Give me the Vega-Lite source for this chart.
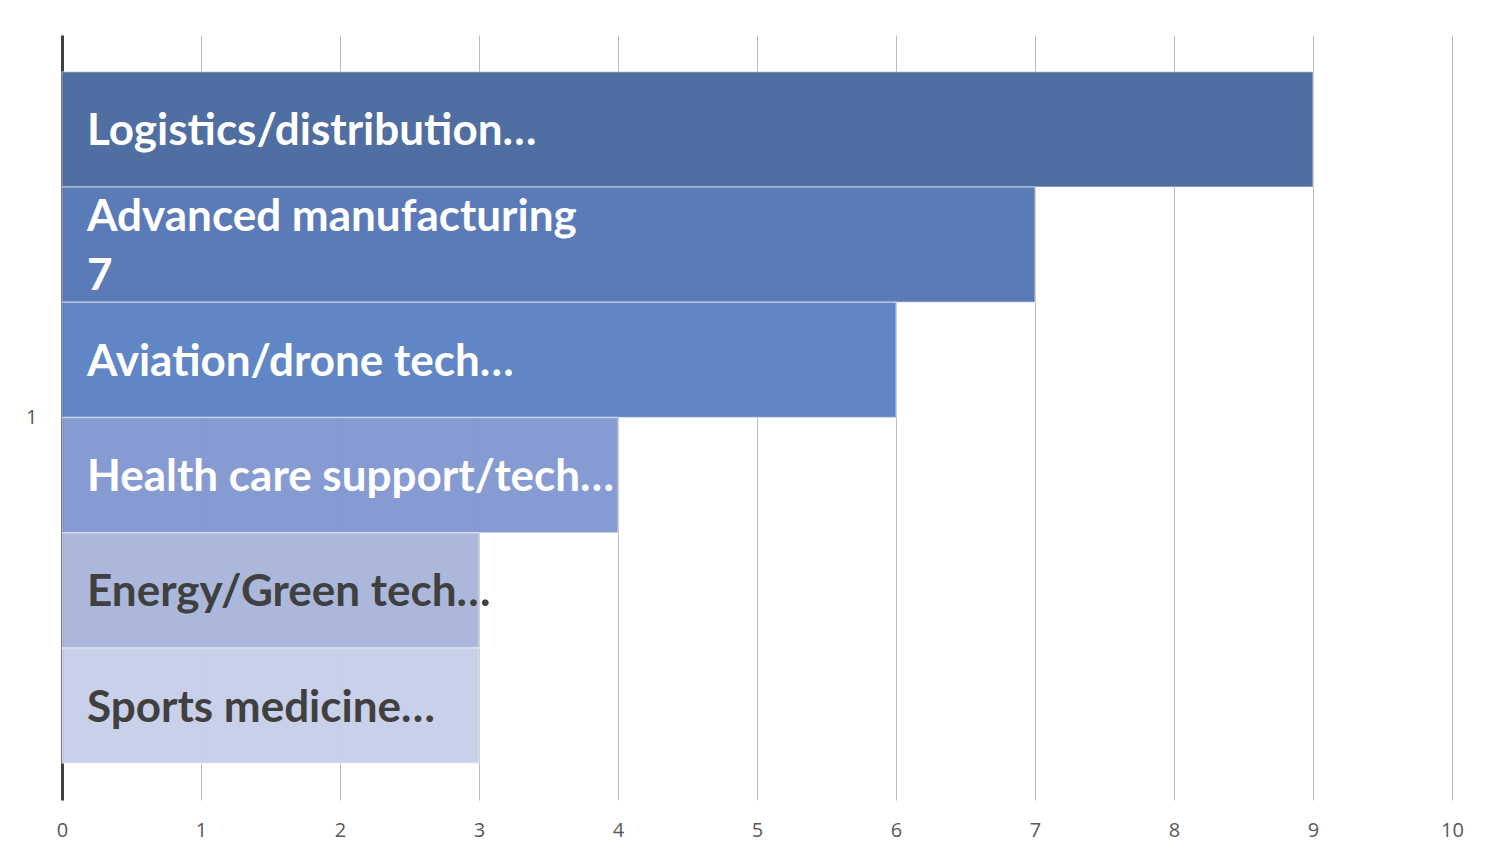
{
  "$schema": "https://vega.github.io/schema/vega-lite/v6.json",
  "width": 1390,
  "height": 765,
  "autosize": "none",
  "padding": {"left": 62, "top": 35, "right": 40, "bottom": 60},
  "background": "#ffffff",
  "config": {
    "view": {"stroke": null},
    "text": {"lineBreak": "\n"}
  },
  "data": {
    "values": [
      {"group": "1", "name": "Logistics/distribution", "value": 9, "label": "Logistics/distribution…"},
      {"group": "1", "name": "Advanced manufacturing", "value": 7, "label": "Advanced manufacturing\n7"},
      {"group": "1", "name": "Aviation/drone tech", "value": 6, "label": "Aviation/drone tech…"},
      {"group": "1", "name": "Health care support/tech", "value": 4, "label": "Health care support/tech…"},
      {"group": "1", "name": "Energy/Green tech", "value": 3, "label": "Energy/Green tech…"},
      {"group": "1", "name": "Sports medicine", "value": 3, "label": "Sports medicine…"}
    ]
  },
  "encoding": {
    "y": {
      "field": "group",
      "type": "nominal",
      "scale": {"paddingInner": 0, "paddingOuter": 0.053},
      "axis": {
        "title": null,
        "ticks": false,
        "labelAngle": 0,
        "labelPadding": 25,
        "labelFontSize": 20,
        "labelColor": "#595959",
        "labelFont": "Open Sans",
        "domainColor": "#404040",
        "domainWidth": 3,
        "grid": false
      }
    },
    "yOffset": {
      "field": "name",
      "type": "nominal",
      "sort": null,
      "scale": {"paddingInner": 0, "paddingOuter": 0}
    },
    "x": {
      "field": "value",
      "type": "quantitative",
      "scale": {"domain": [0, 10], "nice": false},
      "axis": {
        "title": null,
        "values": [0, 1, 2, 3, 4, 5, 6, 7, 8, 9, 10],
        "labelOverlap": false,
        "labelFlush": false,
        "domain": false,
        "ticks": false,
        "grid": true,
        "gridColor": "#BDBDBD",
        "gridWidth": 1,
        "labelPadding": 20,
        "labelFontSize": 20,
        "labelColor": "#595959",
        "labelFont": "Open Sans"
      }
    }
  },
  "layer": [
    {
      "mark": {"type": "bar", "fillOpacity": 0.95, "stroke": "#ffffff", "strokeOpacity": 0.4, "strokeWidth": 1.5},
      "encoding": {
        "color": {
          "field": "name",
          "type": "nominal",
          "sort": null,
          "legend": null,
          "scale": {
            "domain": ["Logistics/distribution", "Advanced manufacturing", "Aviation/drone tech", "Health care support/tech", "Energy/Green tech", "Sports medicine"],
            "range": ["#46669C", "#5274B4", "#577FC3", "#7F96D0", "#A6B4DA", "#C6CEE8"]
          }
        }
      }
    },
    {
      "transform": [{"filter": "datum.name != 'Advanced manufacturing'"}],
      "mark": {"type": "text", "align": "left", "baseline": "middle", "dx": 25, "dy": 3, "font": "Lato", "fontWeight": "bold", "fontSize": 44},
      "encoding": {
        "x": {"datum": 0, "type": "quantitative"},
        "text": {"field": "label", "type": "nominal"},
        "color": {
          "condition": {"test": "datum.value <= 3", "value": "#404040"},
          "value": "#ffffff"
        }
      }
    },
    {
      "transform": [{"filter": "datum.name == 'Advanced manufacturing'"}],
      "mark": {"type": "text", "align": "left", "baseline": "middle", "dx": 25, "dy": -27, "font": "Lato", "fontWeight": "bold", "fontSize": 44, "lineHeight": 59},
      "encoding": {
        "x": {"datum": 0, "type": "quantitative"},
        "text": {"field": "label", "type": "nominal"},
        "color": {"value": "#ffffff"}
      }
    }
  ]
}
